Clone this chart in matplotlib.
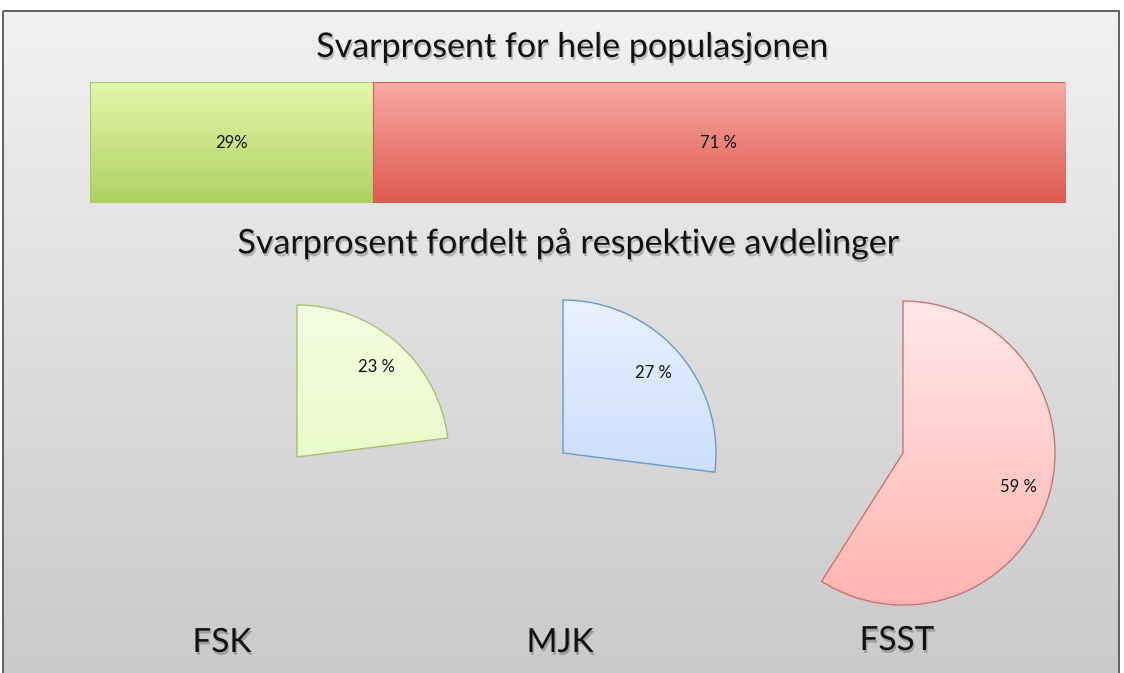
import numpy as np
import matplotlib
matplotlib.use("Agg")
import matplotlib.pyplot as plt
from matplotlib.colors import to_rgb
from matplotlib.patches import Rectangle
import matplotlib.patheffects as pe

# ---------------- data ----------------
overall_labels = ["29%", "71 %"]
overall_values = [29, 71]
dept_names = ["FSK", "MJK", "FSST"]
dept_values = [23, 27, 59]
title_top = "Svarprosent for hele populasjonen"
title_mid = "Svarprosent fordelt på respektive avdelinger"

# ---------------- style ----------------
W, H = 1124, 673
DPI = 100
plt.rcParams['font.family'] = ['Lato', 'DejaVu Sans']

bar_grad = [("#e0f8aa", "#b0d062", "#a8c868"), ("#f9aaa4", "#de5a50", "#d06060")]
pie_grad = [("#f5fde2", "#e0f7b4", "#a8c070"),
            ("#e8f1ff", "#b6d0f8", "#6a98cc"),
            ("#ffe8e8", "#ffb4b0", "#c87474")]
pie_geom = [(297, 457, 152), (563, 453, 153), (903, 453, 152)]  # centre x, y, radius in px
cat_pos = [(222, 643), (560, 643), (897, 641)]


def grad(c_top, c_bot, n=256):
    a = np.array(to_rgb(c_top)); b = np.array(to_rgb(c_bot))
    t = np.linspace(0, 1, n)[:, None]
    return (a * (1 - t) + b * t)[:, None, :]


def px_axes(fig, x0, y0, x1, y1):
    return fig.add_axes([x0 / W, 1 - y1 / H, (x1 - x0) / W, (y1 - y0) / H])


fig = plt.figure(figsize=(W / DPI, H / DPI), dpi=DPI)
fig.patch.set_facecolor("white")

# background panel with gradient and border
bg = fig.add_axes([0, 0, 1, 1])
bg.set_xlim(0, W); bg.set_ylim(H, 0); bg.axis("off")
panel = Rectangle((3, 11), 1116, 680, facecolor="none", edgecolor="#555555", lw=1.3, zorder=3)
bg.add_patch(panel)
im = bg.imshow(grad("#f1f1f1", "#c9c9c9"), extent=(3, 1119, 691, 11), aspect="auto", zorder=0)
im.set_clip_path(panel)
bg.set_xlim(0, W); bg.set_ylim(H, 0)

shadow = [pe.withSimplePatchShadow(offset=(1, -2), shadow_rgbFace="#000000", alpha=0.22)]
bar_shadow = [pe.withSimplePatchShadow(offset=(0, -3), shadow_rgbFace="#000000", alpha=0.15)]

fig.text(572 / W, 1 - 47 / H, title_top, ha="center", va="center", fontsize=24.5,
         color="#111111", path_effects=shadow)
fig.text(568 / W, 1 - 243 / H, title_mid, ha="center", va="center", fontsize=24.5,
         color="#111111", path_effects=shadow)

# stacked bar
bax = px_axes(fig, 90, 82, 1065, 203)
bax.set_xlim(0, sum(overall_values)); bax.set_ylim(0, 1); bax.axis("off")
left = 0
for val, lab, (ct, cb, ce) in zip(overall_values, overall_labels, bar_grad):
    bars = bax.barh(0.5, val, left=left, height=1, facecolor="none", edgecolor=ce, lw=0.8, zorder=2)
    p = bars[0]
    g = bax.imshow(grad(ct, cb), extent=(left, left + val, 0, 1), aspect="auto", zorder=1)
    g.set_clip_path(p)
    bax.text(left + val / 2, 0.5, lab, ha="center", va="center", fontsize=12, color="#111111")
    left += val
bax.set_xlim(0, sum(overall_values)); bax.set_ylim(0, 1)

# pies
for val, name, (cx, cy, r), (ct, cb, ce), (tx, ty) in zip(dept_values, dept_names, pie_geom, pie_grad, cat_pos):
    pax = px_axes(fig, cx - r, cy - r, cx + r, cy + r)
    wedges, texts, autotexts = pax.pie([val, 100 - val], startangle=90, counterclock=False,
                                       colors=["none", "none"], autopct="%1.0f %%", pctdistance=0.79,
                                       wedgeprops=dict(edgecolor=ce, linewidth=1.0),
                                       textprops=dict(fontsize=12, color="#111111"))
    wedges[1].set_visible(False)
    autotexts[1].set_visible(False)
    g = pax.imshow(grad(ct, cb), extent=(-1, 1, -1, 1), aspect="auto", zorder=0)
    g.set_clip_path(wedges[0])
    pax.set_xlim(-1, 1); pax.set_ylim(-1, 1); pax.axis("off")
    fig.text(tx / W, 1 - ty / H, name, ha="center", va="center", fontsize=24, color="#111111",
             path_effects=shadow)

fig.savefig("out.png", dpi=DPI)
